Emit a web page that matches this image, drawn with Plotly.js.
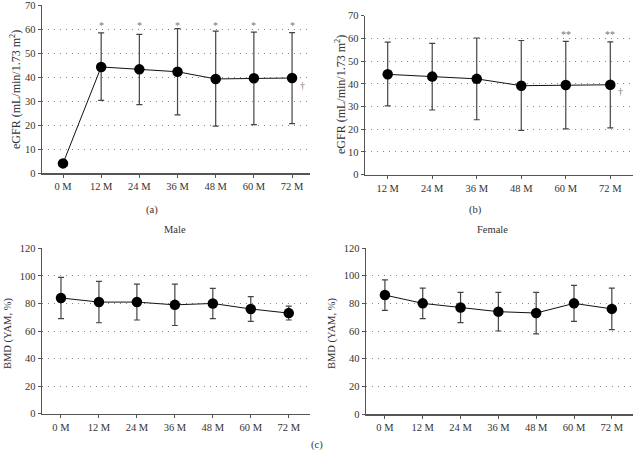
<!DOCTYPE html>
<html>
<head>
<meta charset="utf-8">
<script src="https://cdn.plot.ly/plotly-3.0.1.min.js"></script>
<style>html,body{margin:0;padding:0;background:#fff;}#chart{width:633px;height:453px;}</style>
</head>
<body>
<div id="chart"></div>
<script>
// ---- data ----
const monthsA = ['0 M','12 M','24 M','36 M','48 M','60 M','72 M'];
const egfrMean = [4.0, 44.2, 43.2, 42.2, 39.2, 39.5, 39.6];
const egfrUpper = [5.5, 58.4, 57.8, 60.2, 59.1, 58.7, 58.5];
const egfrLower = [2.8, 30.3, 28.5, 24.2, 19.5, 20.2, 20.6];
const sigA = ['', '*', '*', '*', '*', '*', '*'];

const monthsB = ['12 M','24 M','36 M','48 M','60 M','72 M'];
const egfrMeanB = [44.2, 43.2, 42.2, 39.2, 39.5, 39.6];
const egfrUpperB = [58.4, 57.8, 60.2, 59.1, 58.7, 58.5];
const egfrLowerB = [30.3, 28.5, 24.2, 19.5, 20.2, 20.6];
const sigB = ['', '', '', '', '**', '**'];

const monthsC = ['0 M','12 M','24 M','36 M','48 M','60 M','72 M'];
const maleMean = [84, 81, 81, 79, 80, 76, 73];
const maleUpper = [99, 96, 94, 94, 91, 85, 78];
const maleLower = [69, 66, 68, 64, 69, 67, 68];
const femaleMean = [86, 80, 77, 74, 73, 80, 76];
const femaleUpper = [97, 91, 88, 88, 88, 93, 91];
const femaleLower = [75, 69, 66, 60, 58, 67, 61];

// ---- helpers ----
const W = 633, H = 453;
const px = x => x / W;
const py = y => 1 - y / H;
const FONT = "'Liberation Serif', 'Times New Roman', serif";
const TXT = '#333';

function series(x, mean, up, lo, xa, ya) {
  return {
    type: 'scatter', mode: 'lines+markers', x: x, y: mean,
    xaxis: xa, yaxis: ya,
    line: {color: '#111', width: 1},
    marker: {color: '#000', size: 10.5},
    error_y: {type: 'data', symmetric: false,
      array: mean.map((m, i) => up[i] - m),
      arrayminus: mean.map((m, i) => m - lo[i]),
      color: '#444', thickness: 1.2, width: 3},
    showlegend: false, hoverinfo: 'skip'
  };
}
function sigAnnotations(x, labels, xa, ya, yPos) {
  const out = [];
  labels.forEach((t, i) => {
    if (t) out.push({xref: xa, yref: ya, x: x[i], y: yPos, text: t, showarrow: false,
      xanchor: 'center', yanchor: 'middle',
      font: {family: FONT, size: 10, color: '#777'}});
  });
  return out;
}

const traces = [
  series(monthsA, egfrMean, egfrUpper, egfrLower, 'x', 'y'),
  series(monthsB, egfrMeanB, egfrUpperB, egfrLowerB, 'x2', 'y2'),
  series(monthsC, maleMean, maleUpper, maleLower, 'x3', 'y3'),
  series(monthsC, femaleMean, femaleUpper, femaleLower, 'x4', 'y4')
];

function xAxis(dom, range, anchor) {
  return {domain: dom, range: range, anchor: anchor, type: 'category',
    showline: true, linecolor: '#555', linewidth: 1.5, mirror: false,
    ticks: 'outside', ticklen: 3, tickcolor: '#555', tickwidth: 1,
    showgrid: false, zeroline: false, fixedrange: true,
    tickfont: {family: FONT, size: 10.5, color: TXT}};
}
function yAxis(dom, range, dtick, anchor) {
  return {domain: dom, range: range, anchor: anchor, dtick: dtick, tick0: 0,
    tickmode: 'linear', ticklabeloverflow: 'allow',
    showline: true, linecolor: '#555', linewidth: 1.5,
    ticks: 'outside', ticklen: 3, tickcolor: '#555', tickwidth: 1,
    showgrid: true, gridcolor: '#888', griddash: '1px,5px', gridwidth: 1,
    zeroline: false, fixedrange: true,
    tickfont: {family: FONT, size: 10.5, color: TXT}};
}

function vTitle(x, y, text, size) {
  return {xref: 'paper', yref: 'paper', x: px(x), y: py(y), xanchor: 'center', yanchor: 'middle',
    text: text, textangle: -90, showarrow: false, font: {family: FONT, size: size, color: TXT}};
}
function label(x, y, text) {
  return {xref: 'paper', yref: 'paper', x: px(x), y: py(y), xanchor: 'center', yanchor: 'middle',
    text: text, showarrow: false, font: {family: FONT, size: 10.5, color: TXT}};
}

const layout = {
  width: W, height: H,
  margin: {l: 0, r: 0, t: 0, b: 0},
  paper_bgcolor: '#fff', plot_bgcolor: '#fff',
  font: {family: FONT, color: TXT},
  xaxis: xAxis([px(42), px(310)], [-0.55, 6.47], 'y'),
  yaxis: yAxis([py(173), py(5)], [0, 70.02], 10, 'x'),
  xaxis2: xAxis([px(365), 1], [-0.51, 5.51], 'y2'),
  yaxis2: yAxis([py(174.7), py(15.7)], [0, 70.02], 10, 'x2'),
  xaxis3: xAxis([px(42), px(310)], [-0.5, 6.56], 'y3'),
  yaxis3: yAxis([py(413.7), py(248.3)], [0, 120.03], 20, 'x3'),
  xaxis4: xAxis([px(366), 1], [-0.5, 6.56], 'y4'),
  yaxis4: yAxis([py(414), py(248)], [0, 120.03], 20, 'x4'),
  annotations: [
    vTitle(15, 90, 'eGFR (mL/min/1.73 m<sup>2</sup>)', 12),
    vTitle(341, 95, 'eGFR (mL/min/1.73 m<sup>2</sup>)', 12),
    vTitle(8, 334, 'BMD (YAM, %)', 10.5),
    vTitle(332, 334, 'BMD (YAM, %)', 10.5),
    label(152, 210, '(a)'),
    label(475, 210, '(b)'),
    label(317, 445, '(c)'),
    label(175, 229, 'Male'),
    label(492, 229, 'Female'),
    {xref: 'x', yref: 'y', x: 6.28, y: 36.5, text: '†', showarrow: false, font: {family: FONT, size: 10, color: '#777'}},
    {xref: 'x2', yref: 'y2', x: 5.24, y: 36.8, text: '†', showarrow: false, font: {family: FONT, size: 10, color: '#777'}}
  ].concat(sigAnnotations(monthsA, sigA, 'x', 'y', 61.6))
   .concat(sigAnnotations(monthsB, sigB, 'x2', 'y2', 61.8))
};

Plotly.newPlot('chart', traces, layout, {staticPlot: true, displayModeBar: false});
</script>
</body>
</html>
